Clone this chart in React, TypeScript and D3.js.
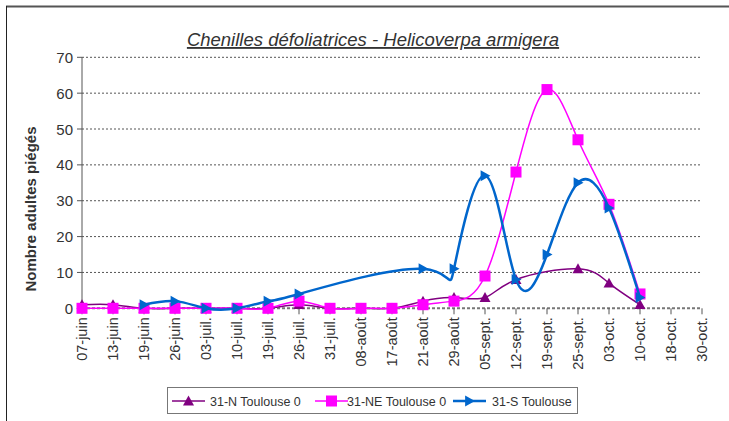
import React from "react";
import * as d3 from "d3";

const categories = ["07-juin","13-juin","19-juin","26-juin","03-juil.","10-juil.","19-juil.","26-juil.","31-juil.","08-août","17-août","21-août","29-août","05-sept.","12-sept.","19-sept.","25-sept.","03-oct.","10-oct.","18-oct.","30-oct."];
const seriesN: (number | null)[] = [1,1,0,0,0,0,0,1,0,0,0,2,3,3,8,null,11,7,1,null,null];
const seriesNE: (number | null)[] = [0,0,0,0,0,0,0,2,0,0,0,1,2,9,38,61,47,29,4,null,null];
const seriesS: (number | null)[] = [null,null,1,2,0,0,2,4,null,null,null,11,11,37,8,15,35,28,3,null,null];
const yTicks = [0,10,20,30,40,50,60,70];
const seriesNames = ["31-N Toulouse 0","31-NE Toulouse 0","31-S Toulouse"];
const seriesColors = ["#800080","#ff00ff","#0066cc"];

const W = 729, H = 421;
const left = 82, right = 702, top = 57.3, bottom = 308.3;
const FONT = "'Liberation Sans', Arial, sans-serif";

function marker(kind: number, x: number, y: number, color: string, key: string) {
  if (kind === 0) {
    const s = 5.5;
    return <path key={key} d={`M${x},${y - s}L${x + s},${y + s * 0.8}L${x - s},${y + s * 0.8}Z`} fill={color} />;
  }
  if (kind === 1) {
    return <rect key={key} x={x - 5.5} y={y - 5.5} width={11} height={11} fill={color} />;
  }
  const s = 5.5;
  return <path key={key} d={`M${x + s},${y}L${x - s * 0.8},${y - s}L${x - s * 0.8},${y + s}Z`} fill={color} />;
}

export default function App() {
  const x = d3.scalePoint<string>().domain(categories).range([left, right]);
  const y = d3.scaleLinear().domain([0, 70]).range([bottom, top]);
  const all = [seriesN, seriesNE, seriesS];
  const widths = [1.5, 1.5, 2.5];
  const line = d3.line<[number, number]>().x(d => d[0]).y(d => d[1]).curve(d3.curveNatural);

  const paths = all.map((s, i) => {
    const pts: [number, number][] = [];
    s.forEach((v, j) => { if (v !== null) pts.push([x(categories[j])!, y(v)]); });
    return { pts, d: line(pts) || "" };
  });

  return (
    <svg width={W} height={H} style={{ position: "absolute", left: 0, top: 0, background: "#fff" }} fontFamily={FONT}>
      <rect x={0} y={0} width={W} height={H} fill="#fff" />
      <line x1={6} y1={6.5} x2={W} y2={6.5} stroke="#555" strokeWidth={2} />
      <line x1={6.5} y1={6} x2={6.5} y2={H} stroke="#222" strokeWidth={1} />
      <text x={373} y={46} textAnchor="middle" fontSize={18.5} fontStyle="italic" fill="#333" textDecoration="underline">Chenilles défoliatrices - Helicoverpa armigera</text>
      {yTicks.map(t => (
        <g key={t}>
          <line x1={left} x2={right} y1={y(t)} y2={y(t)} stroke={t === 0 ? "#777" : "#555"} strokeWidth={t === 0 ? 2 : 1} strokeDasharray={t === 0 ? "3,2" : "2,2"} />
          <line x1={left - 5} x2={left} y1={y(t)} y2={y(t)} stroke="#555" />
          <text x={left - 9} y={y(t) + 5.5} textAnchor="end" fontSize={15} fill="#333">{t}</text>
        </g>
      ))}
      <line x1={left} x2={left} y1={top} y2={bottom} stroke="#555" />
      {categories.map(c => (
        <g key={c}>
          <line x1={x(c)} x2={x(c)} y1={bottom} y2={bottom + 6} stroke="#555" />
          <text transform={`translate(${x(c)! + 5},${bottom + 9}) rotate(-90)`} textAnchor="end" fontSize={14.5} fill="#333">{c}</text>
        </g>
      ))}
      <text transform={`translate(36,209) rotate(-90)`} textAnchor="middle" fontSize={15} fontWeight="bold" fill="#333">Nombre adultes piégés</text>
      {paths.map((p, i) => (
        <g key={i}>
          <path d={p.d} fill="none" stroke={seriesColors[i]} strokeWidth={widths[i]} />
          {p.pts.map((pt, j) => marker(i, pt[0], pt[1], seriesColors[i], `${i}-${j}`))}
        </g>
      ))}
      <rect x={167.5} y={387.5} width={410} height={26} fill="#fff" stroke="#777" />
      {seriesNames.map((n, i) => {
        const lx = [172, 315, 453][i];
        const tx = [210, 347, 492][i];
        return (
          <g key={n}>
            <line x1={lx} x2={lx + 33} y1={401} y2={401} stroke={seriesColors[i]} strokeWidth={widths[i]} />
            {marker(i, lx + 16.5, 401, seriesColors[i], "lg" + i)}
            <text x={tx} y={405.5} fontSize={12.5} fill="#333">{n}</text>
          </g>
        );
      })}
    </svg>
  );
}
